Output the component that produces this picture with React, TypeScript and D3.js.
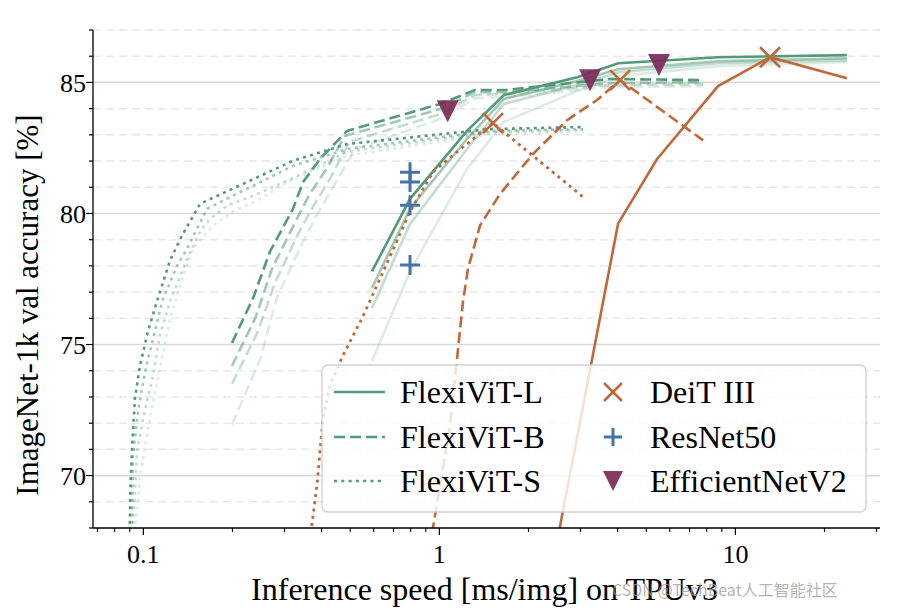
import React from 'react';
import * as d3 from 'd3';

type Pt = [number, number];

// ---------- data ----------
const flexiL: Pt[][] = [
  [[0.592, 77.79], [0.796, 80.56], [1.24, 83.15], [1.654, 84.52], [2.92, 85.2], [4.02, 85.73], [8.74, 85.96], [23.8, 86.04]],
  [[0.592, 77.15], [0.796, 80.18], [1.24, 82.85], [1.654, 84.37], [2.92, 85.05], [4.02, 85.5], [8.74, 85.81], [23.8, 85.92]],
  [[0.592, 76.39], [0.796, 79.6], [1.24, 82.46], [1.654, 84.18], [2.92, 84.9], [4.02, 85.39], [8.74, 85.73], [23.8, 85.85]],
  [[0.592, 74.36], [0.796, 77.79], [1.24, 81.7], [1.654, 83.5], [2.92, 84.67], [4.02, 85.24], [8.74, 85.62], [23.8, 85.78]],
];

const flexiB: Pt[][] = [
  [[0.1992, 75.06], [0.2348, 76.77], [0.2679, 78.55], [0.3204, 80.18], [0.3463, 81.2], [0.3953, 82.08], [0.4877, 83.15], [1.005, 84.18], [1.32, 84.71], [1.667, 84.71], [3.77, 85.13], [7.78, 85.09]],
  [[0.1992, 74.18], [0.2387, 76.0], [0.2722, 77.9], [0.3279, 79.73], [0.3651, 80.75], [0.4111, 81.62], [0.4799, 82.96], [1.005, 83.98], [1.32, 84.63], [1.667, 84.63], [3.77, 84.97], [7.78, 85.01]],
  [[0.1992, 73.5], [0.2425, 75.44], [0.278, 77.33], [0.3377, 79.35], [0.3793, 80.37], [0.427, 81.32], [0.4956, 82.73], [1.005, 83.79], [1.32, 84.52], [1.667, 84.56], [3.77, 84.9], [7.78, 84.94]],
  [[0.1992, 71.94], [0.249, 74.48], [0.2822, 76.77], [0.3377, 78.67], [0.3882, 80.0], [0.4435, 81.13], [0.5184, 82.46], [1.005, 83.6], [1.32, 84.4], [1.667, 84.44], [3.77, 84.82], [7.78, 84.86]],
];

const flexiS: Pt[][] = [
  [[0.0898, 67.6], [0.0905, 69.65], [0.0916, 71.06], [0.0937, 72.96], [0.0975, 74.21], [0.1037, 75.51], [0.1112, 76.65], [0.1231, 78.21], [0.1351, 79.16], [0.1555, 80.37], [0.2172, 81.13], [0.3204, 82.01], [0.4877, 82.65], [1.483, 83.22], [3.06, 83.3]],
  [[0.0912, 67.6], [0.0923, 70.79], [0.0963, 72.58], [0.1019, 74.1], [0.1087, 75.36], [0.1157, 76.65], [0.1302, 78.02], [0.1407, 78.67], [0.152, 79.43], [0.1643, 80.18], [0.2007, 80.68], [0.2614, 81.32], [0.3204, 81.82], [0.4877, 82.46], [1.483, 83.15], [3.06, 83.22]],
  [[0.0918, 67.6], [0.0952, 70.94], [0.0999, 72.2], [0.1079, 73.83], [0.1138, 75.36], [0.1231, 76.65], [0.1407, 78.28], [0.1555, 79.31], [0.1682, 79.8], [0.1917, 80.3], [0.2347, 80.68], [0.3058, 81.25], [0.4877, 82.35], [1.483, 83.11], [3.06, 83.19]],
  [[0.093, 67.6], [0.0975, 69.92], [0.1037, 71.82], [0.112, 73.72], [0.1231, 76.0], [0.1331, 77.25], [0.1472, 78.67], [0.1721, 79.54], [0.2007, 80.07], [0.249, 80.56], [0.3058, 81.21], [0.4877, 82.2], [1.483, 83.03], [3.06, 83.11]],
];

const deitL: Pt[] = [[2.53, 67.8], [4.015, 79.61], [5.44, 82.08], [8.74, 84.86], [13.1, 85.96], [23.8, 85.16]];
const deitB: Pt[] = [[0.945, 67.8], [1.087, 71.94], [1.148, 74.48], [1.202, 76.65], [1.25, 77.9], [1.372, 79.54], [1.604, 80.75], [2.073, 82.27], [2.701, 83.56], [3.41, 84.33], [4.08, 85.09], [7.78, 82.79]];
const deitS: Pt[] = [[0.368, 67.8], [0.3861, 69.65], [0.3953, 70.94], [0.4047, 72.2], [0.4272, 73.45], [0.4727, 74.59], [0.548, 76.0], [0.6606, 78.02], [0.796, 80.07], [0.952, 81.59], [1.148, 82.35], [1.518, 83.45], [3.06, 80.63]];
const deitBest: Pt[] = [[13.1, 85.96], [4.08, 85.09], [1.518, 83.45]];

const resnet50: Pt[] = [[0.796, 81.57], [0.796, 81.2], [0.796, 80.31], [0.796, 78.03]];
const effnetV2: Pt[] = [[1.067, 83.9], [3.23, 85.08], [5.52, 85.66]];

const xMajorTicks = [0.1, 1, 10];
const xTickLabels = ['0.1', '1', '10'];
const yMajorTicks = [70, 75, 80, 85];
const variantAlpha = [1, 0.55, 0.35, 0.2];

// ---------- styles ----------
const GREEN = '#559a78';
const ORANGE = '#c0683a';
const BLUE = '#4474aa';
const PURPLE = '#7c2a58';
const FONT = '"Liberation Serif", "DejaVu Serif", serif';

const L = 93, R = 880, T = 30, B = 528;

export default function App() {
  const x = d3.scaleLog().domain([0.0676, 30.8]).range([L, R]);
  const y = d3.scaleLinear().domain([68, 87]).range([B, T]);
  const line = d3.line<Pt>().x(d => x(d[0])).y(d => y(d[1]));

  const yMinor = d3.range(68, 88).filter(v => !yMajorTicks.includes(v));
  const xMinor: number[] = [];
  [0.01, 0.1, 1, 10].forEach(dec => {
    for (let k = 2; k <= 9; k++) {
      const v = dec * k;
      if (v >= 0.0676 && v <= 30.8) xMinor.push(v);
    }
  });

  const dashFor = (style: string) => (style === 'dashed' ? '11,5' : style === 'dotted' ? '3,4.3' : undefined);

  const family = (lines: Pt[][], style: string, key: string) =>
    lines
      .map((pts, i) => (
        <path
          key={`${key}${i}`}
          d={line(pts) || ''}
          fill="none"
          stroke={GREEN}
          strokeOpacity={variantAlpha[i]}
          strokeWidth={2.6}
          strokeDasharray={dashFor(style)}
        />
      ))
      .reverse();

  const xMark = (cx: number, cy: number, s = 10, k = '') => (
    <path key={k} d={`M${cx - s},${cy - s}L${cx + s},${cy + s}M${cx - s},${cy + s}L${cx + s},${cy - s}`} stroke={ORANGE} strokeWidth={2.6} fill="none" />
  );
  const plusMark = (cx: number, cy: number, s = 10, k = '') => (
    <path key={k} d={`M${cx - s},${cy}L${cx + s},${cy}M${cx},${cy - s}L${cx},${cy + s}`} stroke={BLUE} strokeWidth={3} fill="none" />
  );
  const triMark = (cx: number, cy: number, s = 11, k = '') => (
    <path key={k} d={`M${cx - s},${cy - s}L${cx + s},${cy - s}L${cx},${cy + s}Z`} fill={PURPLE} fillOpacity={0.92} />
  );

  // legend geometry
  const lgX = 322, lgY = 365, lgW = 544, lgH = 147;
  const rows = [392, 437, 481];

  return (
    <svg width={900} height={612} style={{ position: 'absolute', left: 0, top: 0, background: '#fff' }} fontFamily={FONT}>
      <defs>
        <clipPath id="plotclip">
          <rect x={L} y={T} width={R - L} height={B - T} />
        </clipPath>
      </defs>
      <rect x={0} y={0} width={900} height={612} fill="#fff" />

      {/* grid */}
      {yMinor.map(v => (
        <line key={`gm${v}`} x1={L} x2={R} y1={y(v)} y2={y(v)} stroke="#e8e8e8" strokeWidth={1.5} strokeDasharray="8,5" />
      ))}
      {yMajorTicks.map(v => (
        <line key={`gM${v}`} x1={L} x2={R} y1={y(v)} y2={y(v)} stroke="#d9d9d9" strokeWidth={1.6} />
      ))}

      {/* lines */}
      <g clipPath="url(#plotclip)">
        {family(flexiS, 'dotted', 's')}
        {family(flexiB, 'dashed', 'b')}
        {family(flexiL, 'solid', 'l')}
        <path d={line(deitL) || ''} fill="none" stroke={ORANGE} strokeWidth={2.6} />
        <path d={line(deitB) || ''} fill="none" stroke={ORANGE} strokeWidth={2.6} strokeDasharray="11,5" />
        <path d={line(deitS) || ''} fill="none" stroke={ORANGE} strokeWidth={2.8} strokeDasharray="3,4.3" />
        {deitBest.map((p, i) => xMark(x(p[0]), y(p[1]), 10, `dx${i}`))}
        {resnet50.map((p, i) => plusMark(x(p[0]), y(p[1]), 10, `rp${i}`))}
        {effnetV2.map((p, i) => triMark(x(p[0]), y(p[1]), 11, `ef${i}`))}
      </g>

      {/* axes */}
      <line x1={L} x2={L} y1={T} y2={B} stroke="#000" strokeWidth={1.3} />
      <line x1={L} x2={R} y1={B} y2={B} stroke="#000" strokeWidth={1.3} />
      {d3.range(68, 88).map(v => (
        <line key={`yt${v}`} x1={L} x2={L - (yMajorTicks.includes(v) ? 7 : 4)} y1={y(v)} y2={y(v)} stroke="#000" strokeWidth={1.2} />
      ))}
      {yMajorTicks.map(v => (
        <text key={`yl${v}`} x={L - 7} y={y(v)} dy="0.35em" textAnchor="end" fontSize={26} fill="#000">{v}</text>
      ))}
      {xMinor.map(v => (
        <line key={`xm${v}`} x1={x(v)} x2={x(v)} y1={B} y2={B + 4} stroke="#000" strokeWidth={1.1} />
      ))}
      {xMajorTicks.map((v, i) => (
        <g key={`xt${v}`}>
          <line x1={x(v)} x2={x(v)} y1={B} y2={B + 7} stroke="#000" strokeWidth={1.2} />
          <text x={x(v)} y={563} textAnchor="middle" fontSize={26} fill="#000">{xTickLabels[i]}</text>
        </g>
      ))}

      <text x={(L + R) / 2 - 2} y={600} textAnchor="middle" fontSize={32} fill="#000">Inference speed [ms/img] on TPUv3</text>
      <text transform={`translate(38,305) rotate(-90)`} textAnchor="middle" fontSize={31} fill="#000">ImageNet-1k val accuracy [%]</text>

      {/* legend */}
      <rect x={lgX} y={lgY} width={lgW} height={lgH} rx={6} fill="#fff" fillOpacity={0.8} stroke="#cccccc" strokeOpacity={0.9} strokeWidth={1.4} />
      {['FlexiViT-L', 'FlexiViT-B', 'FlexiViT-S'].map((name, i) => (
        <g key={name}>
          <line x1={334} x2={385} y1={rows[i]} y2={rows[i]} stroke={GREEN} strokeWidth={2.6} strokeDasharray={dashFor(['solid', 'dashed', 'dotted'][i])} />
          <text x={400} y={rows[i]} dy="0.35em" fontSize={32} fill="#000">{name}</text>
        </g>
      ))}
      {xMark(613, rows[0], 9, 'lgx')}
      {plusMark(613, rows[1], 9, 'lgp')}
      {triMark(613, rows[2], 10, 'lgt')}
      {['DeiT III', 'ResNet50', 'EfficientNetV2'].map((name, i) => (
        <text key={name} x={650} y={rows[i]} dy="0.35em" fontSize={32} fill="#000">{name}</text>
      ))}

      {/* watermark */}
      <text x={612} y={596} fontSize={16} fill="#9a9a9a" fillOpacity={0.75} fontFamily={'"Noto Sans CJK SC", "Noto Sans", sans-serif'}>CSDN @TechBeat人工智能社区</text>
    </svg>
  );
}
